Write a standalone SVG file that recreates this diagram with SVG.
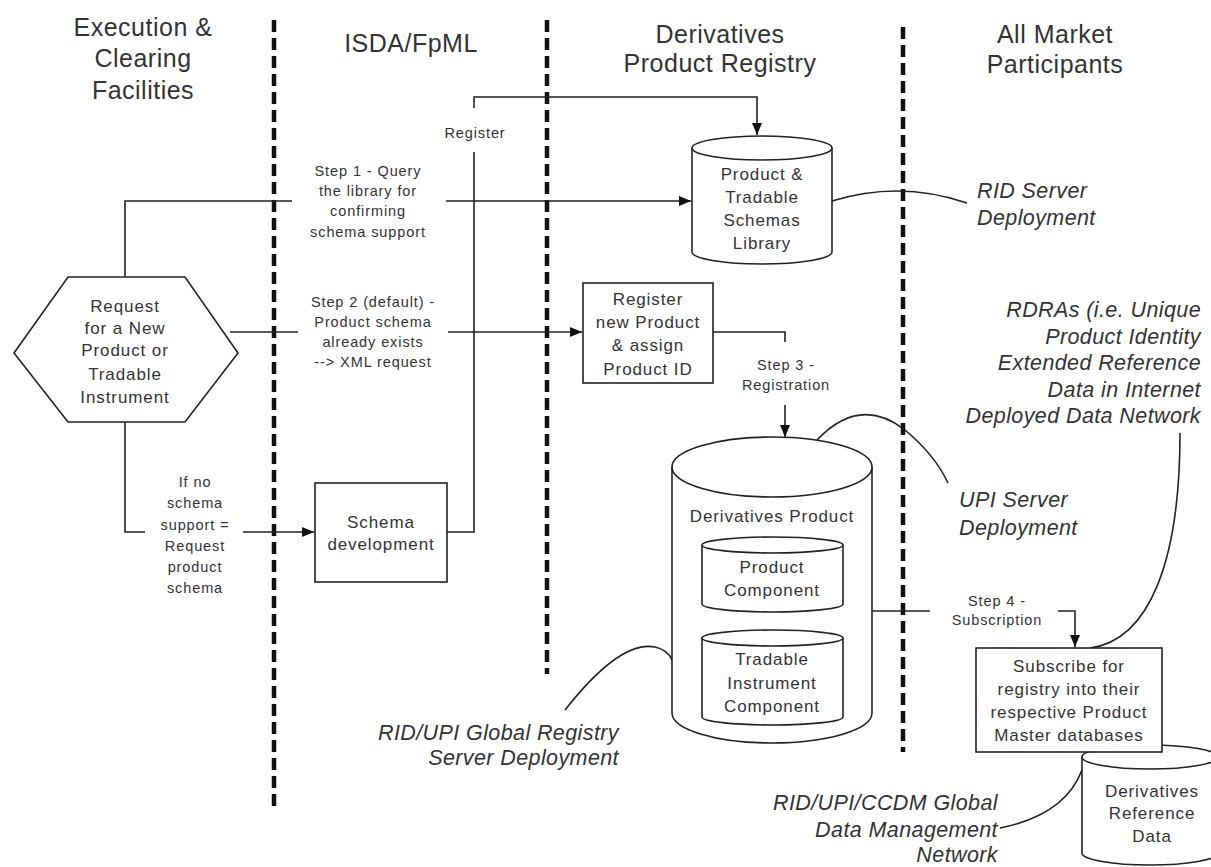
<svg xmlns="http://www.w3.org/2000/svg" width="1211" height="867" viewBox="0 0 1211 867">
<defs>
<marker id="arr" markerWidth="13" markerHeight="11" refX="12" refY="5" orient="auto" markerUnits="userSpaceOnUse">
<path d="M0,0 L12,5 L0,10 z" fill="#111"/>
</marker>
<style>
.hdr{font-family:"Liberation Sans",Arial,sans-serif;font-size:25px;letter-spacing:0.5px;fill:#333;text-anchor:middle}
.lbl{font-family:"Liberation Sans",Arial,sans-serif;font-size:14.5px;letter-spacing:0.9px;fill:#333;text-anchor:middle}
.box{font-family:"Liberation Sans",Arial,sans-serif;font-size:17px;letter-spacing:0.9px;fill:#333;text-anchor:middle}
.it{font-family:"Liberation Sans",Arial,sans-serif;font-size:21.5px;letter-spacing:0.4px;font-style:italic;fill:#333}
.shape{fill:#fff;stroke:#222;stroke-width:1.6}
.ln{fill:none;stroke:#222;stroke-width:1.6}
.lane{stroke:#111;stroke-width:4.5;stroke-dasharray:12 6;fill:none}
.arr{marker-end:url(#arr)}
</style>
</defs>
<rect width="1211" height="867" fill="#fff"/>

<g id="lanes">
<line class="lane" x1="274" y1="20" x2="274" y2="810"/>
<line class="lane" x1="547" y1="20" x2="547" y2="674"/>
<line class="lane" x1="903" y1="27" x2="903" y2="752"/>
</g>

<g id="headers">
<text class="hdr" x="143" y="36">Execution &amp;</text>
<text class="hdr" x="143" y="67">Clearing</text>
<text class="hdr" x="143" y="99">Facilities</text>
<text class="hdr" x="411" y="52">ISDA/FpML</text>
<text class="hdr" x="720" y="43">Derivatives</text>
<text class="hdr" x="720" y="72">Product Registry</text>
<text class="hdr" x="1055" y="43">All Market</text>
<text class="hdr" x="1055" y="73">Participants</text>
</g>

<g id="connectors">
<!-- Register -->
<polyline class="ln" points="447,532 474,532 474,152"/>
<polyline class="ln arr" points="474,108 474,97 757,97 757,135"/>
<text class="lbl" x="475" y="138">Register</text>
<!-- Step 1 -->
<polyline class="ln" points="125,277 125,201 292,201"/>
<line class="ln arr" x1="446" y1="201" x2="691" y2="201"/>
<text class="lbl" x="368" y="176">Step 1 - Query</text>
<text class="lbl" x="368" y="196">the library for</text>
<text class="lbl" x="368" y="216">confirming</text>
<text class="lbl" x="368" y="237">schema support</text>
<!-- Step 2 -->
<line class="ln" x1="230" y1="332" x2="298" y2="332"/>
<line class="ln arr" x1="448" y1="332" x2="582" y2="332"/>
<text class="lbl" x="373" y="307">Step 2 (default) -</text>
<text class="lbl" x="373" y="327">Product schema</text>
<text class="lbl" x="373" y="347">already exists</text>
<text class="lbl" x="373" y="367">--&gt; XML request</text>
<!-- If no schema -->
<polyline class="ln" points="125,422 125,532 145,532"/>
<line class="ln arr" x1="243" y1="532" x2="314" y2="532"/>
<text class="lbl" x="195" y="487">If no</text>
<text class="lbl" x="195" y="508">schema</text>
<text class="lbl" x="195" y="530">support =</text>
<text class="lbl" x="195" y="551">Request</text>
<text class="lbl" x="195" y="572">product</text>
<text class="lbl" x="195" y="593">schema</text>
<!-- Step 3 -->
<polyline class="ln" points="713,332 785,332 785,342"/>
<line class="ln arr" x1="785" y1="405" x2="785" y2="437"/>
<text class="lbl" x="786" y="370">Step 3 -</text>
<text class="lbl" x="786" y="390">Registration</text>
<!-- Step 4 -->
<line class="ln" x1="872" y1="611" x2="930" y2="611"/>
<polyline class="ln arr" points="1058,611 1075,611 1075,647"/>
<text class="lbl" x="997" y="606">Step 4 -</text>
<text class="lbl" x="997" y="625">Subscription</text>
<!-- annotation curves -->
<path class="ln" d="M832,201 Q900,180 967,203"/>
<path class="ln" d="M817,440 Q860,395 905,430 Q935,455 948,483"/>
<path class="ln" d="M565,710 Q620,640 655,647 Q668,650 672,660"/>
<path class="ln" d="M1180,433 C1180,560 1150,640 1090,648"/>
<path class="ln" d="M1000,828 Q1065,815 1082,770"/>
</g>

<g id="request">
<polygon class="shape" points="14,353 68,277 185,277 238,353 185,422 68,422"/>
<text class="box" x="125" y="312">Request</text>
<text class="box" x="125" y="334">for a New</text>
<text class="box" x="125" y="356">Product or</text>
<text class="box" x="125" y="380">Tradable</text>
<text class="box" x="125" y="403">Instrument</text>
</g>

<g id="schemaDev">
<rect class="shape" x="315" y="483" width="132" height="99"/>
<text class="box" x="381" y="528">Schema</text>
<text class="box" x="381" y="550">development</text>
</g>

<g id="library">
<path class="shape" d="M692,148 L692,252 A70,12 0 0 0 832,252 L832,148"/>
<ellipse class="shape" cx="762" cy="148" rx="70" ry="12"/>
<text class="box" x="762" y="180">Product &amp;</text>
<text class="box" x="762" y="203">Tradable</text>
<text class="box" x="762" y="226">Schemas</text>
<text class="box" x="762" y="249">Library</text>
</g>

<g id="registerBox">
<rect class="shape" x="583" y="283" width="130" height="100"/>
<text class="box" x="648" y="305">Register</text>
<text class="box" x="648" y="328">new Product</text>
<text class="box" x="648" y="351">&amp; assign</text>
<text class="box" x="648" y="375">Product ID</text>
</g>

<g id="derivProduct">
<path class="shape" d="M672,467 L672,713 A100,30 0 0 0 872,713 L872,467"/>
<ellipse class="shape" cx="772" cy="467" rx="100" ry="30"/>
<text class="box" x="772" y="522">Derivatives Product</text>
<g id="productComponent">
<path class="shape" d="M702,545 L702,604 A70.5,8 0 0 0 843,604 L843,545"/>
<ellipse class="shape" cx="772.5" cy="545" rx="70.5" ry="8"/>
<text class="box" x="772" y="573">Product</text>
<text class="box" x="772" y="596">Component</text>
</g>
<g id="tradableComponent">
<path class="shape" d="M702,638 L702,717 A70.5,8 0 0 0 843,717 L843,638"/>
<ellipse class="shape" cx="772.5" cy="638" rx="70.5" ry="8"/>
<text class="box" x="772" y="665">Tradable</text>
<text class="box" x="772" y="689">Instrument</text>
<text class="box" x="772" y="712">Component</text>
</g>
</g>

<g id="refData">
<path class="shape" d="M1082,757 L1082,853 A68,12 0 0 0 1218,853 L1218,757"/>
<ellipse class="shape" cx="1150" cy="757" rx="68" ry="12"/>
<text class="box" x="1152" y="797">Derivatives</text>
<text class="box" x="1152" y="819">Reference</text>
<text class="box" x="1152" y="842">Data</text>
</g>

<g id="subscribe">
<rect class="shape" x="976" y="648" width="186" height="104"/>
<text class="box" x="1069" y="672">Subscribe for</text>
<text class="box" x="1069" y="695">registry into their</text>
<text class="box" x="1069" y="718">respective Product</text>
<text class="box" x="1069" y="741">Master databases</text>
</g>

<g id="annotations">
<text class="it" x="977" y="198">RID Server</text>
<text class="it" x="977" y="225">Deployment</text>
<g text-anchor="end">
<text class="it" x="1201" y="317">RDRAs (i.e. Unique</text>
<text class="it" x="1201" y="344">Product Identity</text>
<text class="it" x="1201" y="370">Extended Reference</text>
<text class="it" x="1201" y="397">Data in Internet</text>
<text class="it" x="1201" y="423">Deployed Data Network</text>
</g>
<text class="it" x="959" y="507">UPI Server</text>
<text class="it" x="959" y="535">Deployment</text>
<g text-anchor="end">
<text class="it" x="619" y="740">RID/UPI Global Registry</text>
<text class="it" x="619" y="765">Server Deployment</text>
<text class="it" x="998" y="810">RID/UPI/CCDM Global</text>
<text class="it" x="998" y="837">Data Management</text>
<text class="it" x="998" y="862">Network</text>
</g>
</g>
</svg>
